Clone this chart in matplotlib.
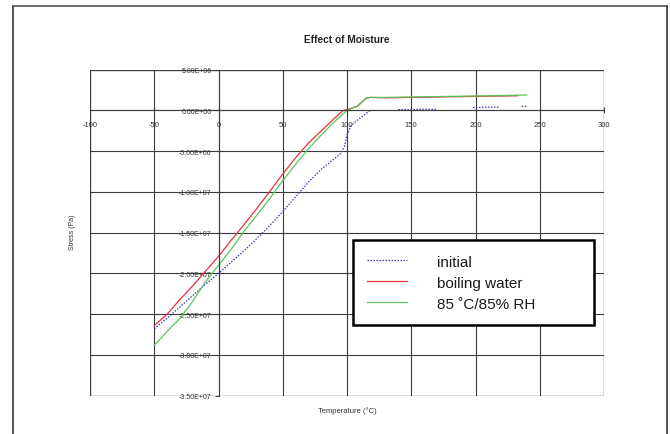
import numpy as np
import matplotlib
matplotlib.use("Agg")
from matplotlib import pyplot as plt
from matplotlib.lines import Line2D
from matplotlib.patches import Rectangle
from matplotlib.ticker import FuncFormatter

plt.rcParams['font.family'] = ['Liberation Sans', 'DejaVu Sans']
plt.rcParams['axes.unicode_minus'] = False

# dane (temperatura w C, naprezenie w Pa)
initial_t = [-50, -40, -30, -20, -10, 0, 10, 20, 30, 40, 50, 60, 70, 80, 88, 95, 98, 100, 103, 108, 113, 118,
             np.nan, 140, 150, 160, 170, np.nan, 198, 208, 218, np.nan, 236, 240]
initial_s = [-2.68e7, -2.55e7, -2.41e7, -2.27e7, -2.13e7, -2.00e7, -1.86e7, -1.72e7, -1.57e7, -1.41e7, -1.24e7,
             -1.06e7, -0.88e7, -0.72e7, -0.62e7, -0.53e7, -0.44e7, -0.30e7, -0.19e7, -0.12e7, -0.06e7, 0.0,
             np.nan, 0.01e7, 0.01e7, 0.015e7, 0.015e7, np.nan, 0.035e7, 0.04e7, 0.04e7, np.nan, 0.05e7, 0.05e7]

boiling_t = [-50, -40, -30, -20, -10, 0, 10, 20, 30, 40, 50, 60, 70, 80, 90, 97, 100, 104, 108, 112, 115, 118,
             130, 150, 170, 190, 210, 233]
boiling_s = [-2.64e7, -2.50e7, -2.32e7, -2.15e7, -1.97e7, -1.79e7, -1.59e7, -1.40e7, -1.20e7, -0.99e7, -0.78e7,
             -0.58e7, -0.40e7, -0.25e7, -0.10e7, 0.0, 0.01e7, 0.03e7, 0.05e7, 0.11e7, 0.15e7, 0.16e7,
             0.155e7, 0.16e7, 0.165e7, 0.17e7, 0.175e7, 0.18e7]

humid_t = [-50, -45, -40, -30, -20, -10, 0, 10, 20, 30, 40, 50, 60, 70, 80, 90, 100, 104, 108, 112, 115, 118,
           130, 150, 170, 190, 210, 240]
humid_s = [-2.88e7, -2.80e7, -2.71e7, -2.55e7, -2.34e7, -2.10e7, -1.90e7, -1.70e7, -1.48e7, -1.28e7, -1.08e7,
           -0.86e7, -0.66e7, -0.47e7, -0.30e7, -0.14e7, 0.0, 0.03e7, 0.05e7, 0.11e7, 0.15e7, 0.16e7,
           0.16e7, 0.165e7, 0.17e7, 0.175e7, 0.18e7, 0.19e7]

labels = ["initial", "boiling water", "85 \u02daC/85% RH"]

fig = plt.figure(figsize=(6.7, 4.35), dpi=100)
ax = fig.add_axes([90/670, 1-396.7/435, 514/670, 326/435])

ax.plot(initial_t, initial_s, color="#3a3ab8", linestyle=(0, (1.2, 1.2)), linewidth=0.9, label=labels[0])
ax.plot(boiling_t, boiling_s, color="#e8303a", linewidth=0.9, label=labels[1])
ax.plot(humid_t, humid_s, color="#5cc25c", linewidth=0.9, label=labels[2])

ax.set_xlim(-100, 300)
ax.set_ylim(-3.5e7, 0.5e7)
ax.set_xticks(np.arange(-100, 301, 50))
ax.set_yticks(np.arange(-3.5e7, 0.51e7, 0.5e7))
ax.grid(True, color="#3c3c3c", linewidth=0.8)
ax.set_axisbelow(True)

# osie przecinaja sie w zerze jak w Excelu
ax.spines["left"].set_position(("data", 0))
ax.spines["bottom"].set_position(("data", 0))
for s in ["left", "bottom"]:
    ax.spines[s].set_color("#3c3c3c")
    ax.spines[s].set_linewidth(0.8)
for s in ["top", "right"]:
    ax.spines[s].set_visible(False)
ax.add_patch(Rectangle((0, 0), 1, 1, transform=ax.transAxes, fill=False,
                       edgecolor="#8a8a8a", linewidth=1.0, zorder=0.5))

ax.yaxis.set_major_formatter(FuncFormatter(lambda v, p: "%.2E" % v))
ax.tick_params(axis="y", direction="out", length=3, width=0.8, pad=2, labelsize=5, labelcolor="#333333", color="#3c3c3c")
ax.tick_params(axis="x", direction="inout", length=4, width=0.8, pad=5.5, labelsize=5.5, labelcolor="#333333", color="#3c3c3c")

fig.text(347/670, 1-40/435, "Effect of Moisture", ha="center", va="center", fontsize=7.3, fontweight="bold", color="#222222")
fig.text(72/670, 1-232/435, "Stress (Pa)", ha="center", va="center", rotation=90, fontsize=5, color="#333333")
fig.text(347/670, 1-411/435, "Temperature (\u00b0C)", ha="center", va="center", fontsize=5.5, color="#333333")

leg = ax.legend(loc="upper left", bbox_to_anchor=(0.511, 0.2169, 0.4695, 0.2607), mode="expand",
                fontsize=11, frameon=True, fancybox=False, framealpha=1, edgecolor="black",
                handlelength=2.6, handletextpad=2.0, labelspacing=0.46, borderpad=0.95, borderaxespad=0)
leg.get_frame().set_linewidth(1.8)
for t in leg.get_texts():
    t.set_color("#1a1a1a")

# ramka wokol calego wykresu
fig.add_artist(Line2D([13/670, 13/670], [0, 1-7/435], color="#333333", linewidth=1.2))
fig.add_artist(Line2D([13/670, 667/670], [1-7/435, 1-7/435], color="#555555", linewidth=1.2))
fig.add_artist(Line2D([667/670, 667/670], [0, 1-7/435], color="#333333", linewidth=1.2))

plt.savefig("out.png", dpi=100)
plt.close()
